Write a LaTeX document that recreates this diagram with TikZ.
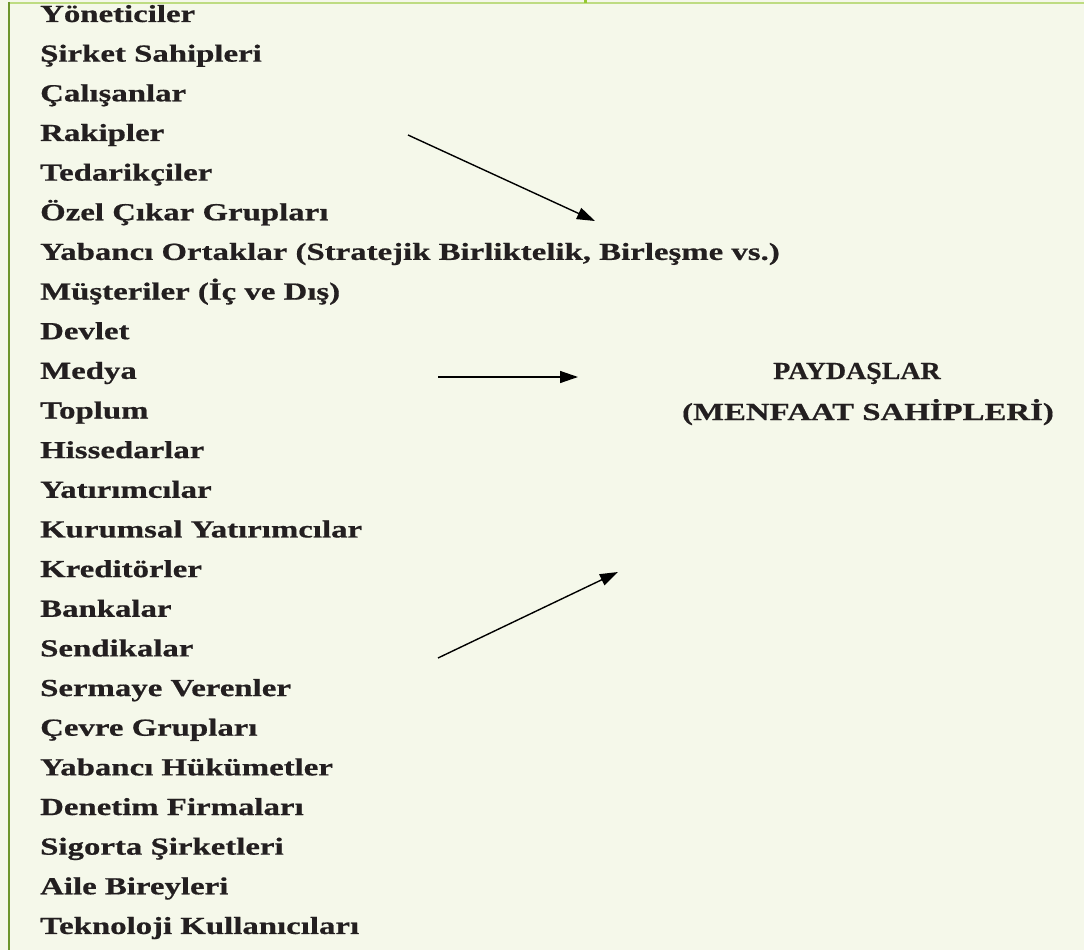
\documentclass[tikz,border=0pt]{standalone}
\usepackage{fontspec}
\setmainfont{Liberation Serif}[FakeStretch=1.34, BoldFeatures={FakeBold=0.6}]
\usetikzlibrary{arrows.meta}
\definecolor{bg}{RGB}{245,248,234}
\definecolor{topline}{RGB}{190,220,130}
\definecolor{leftline}{RGB}{110,150,45}
\definecolor{tickc}{RGB}{150,200,50}
\definecolor{txt}{RGB}{35,31,32}
\begin{document}
\begin{tikzpicture}[x=1pt,y=-1pt,
  item/.style={anchor=base west, inner sep=0pt, text=txt, font=\fontsize{24.5}{29}\selectfont\bfseries},
  title/.style={anchor=base, inner sep=0pt, text=txt, font=\fontsize{24.5}{29}\selectfont\bfseries},
  arr/.style={line width=1.4pt, draw=black, -{Triangle[length=18pt,width=12pt]}}]
\fill[bg] (0,0) rectangle (1084,950);
\useasboundingbox (0,0) rectangle (1084,950);
\draw[topline, line width=2.5pt] (8,2.8) -- (1084,2.8);
\draw[leftline, line width=1.8pt] (9,2) -- (9,950);
\fill[tickc] (583.5,0) rectangle (587,3);
\def\sp{39.65}
\node[item] (n0) at (40,22+0*\sp) {Yöneticiler};
\node[item] (n1) at (40,22+1*\sp) {Şirket Sahipleri};
\node[item] (n2) at (40,22+2*\sp) {Çalışanlar};
\node[item] (n3) at (40,22+3*\sp) {Rakipler};
\node[item] (n4) at (40,22+4*\sp) {Tedarikçiler};
\node[item] (n5) at (40,22+5*\sp) {Özel Çıkar Grupları};
\node[item] (n6) at (40,22+6*\sp) {Yabancı Ortaklar (Stratejik Birliktelik, Birleşme vs.)};
\node[item] (n7) at (40,22+7*\sp) {Müşteriler (İç ve Dış)};
\node[item] (n8) at (40,22+8*\sp) {Devlet};
\node[item] (n9) at (40,22+9*\sp) {Medya};
\node[item] (n10) at (40,22+10*\sp) {Toplum};
\node[item] (n11) at (40,22+11*\sp) {Hissedarlar};
\node[item] (n12) at (40,22+12*\sp) {Yatırımcılar};
\node[item] (n13) at (40,22+13*\sp) {Kurumsal Yatırımcılar};
\node[item] (n14) at (40,22+14*\sp) {Kreditörler};
\node[item] (n15) at (40,22+15*\sp) {Bankalar};
\node[item] (n16) at (40,22+16*\sp) {Sendikalar};
\node[item] (n17) at (40,22+17*\sp) {Sermaye Verenler};
\node[item] (n18) at (40,22+18*\sp) {Çevre Grupları};
\node[item] (n19) at (40,22+19*\sp) {Yabancı Hükümetler};
\node[item] (n20) at (40,22+20*\sp) {Denetim Firmaları};
\node[item] (n21) at (40,22+21*\sp) {Sigorta Şirketleri};
\node[item] (n22) at (40,22+22*\sp) {Aile Bireyleri};
\node[item] (n23) at (40,22+23*\sp) {Teknoloji Kullanıcıları};
\node[title] (p1) at (857,379) {\scalebox{0.85}[1]{PAYDAŞLAR}};
\node[title] (p2) at (868,420) {(MENFAAT SAHİPLERİ)};
\coordinate (a1s) at (408,135);
\coordinate (a1e) at (595,221);
\coordinate (a2s) at (438,377);
\coordinate (a2e) at (578,377);
\coordinate (a3s) at (438,658);
\coordinate (a3e) at (618,572);
\draw[arr] (a1s) -- (a1e);
\draw[arr] (a2s) -- (a2e);
\draw[arr] (a3s) -- (a3e);
\end{tikzpicture}
\end{document}
